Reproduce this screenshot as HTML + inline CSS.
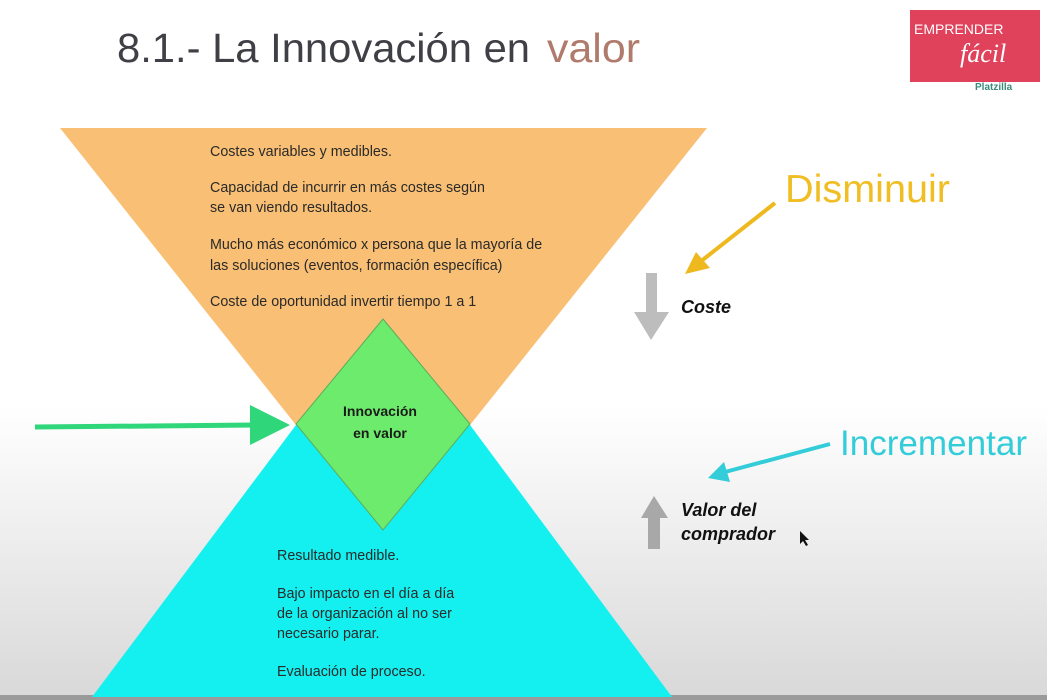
<!DOCTYPE html>
<html><head><meta charset="utf-8"><style>
html,body{margin:0;padding:0;width:1047px;height:700px;overflow:hidden;background:#fff}
svg{display:block}
</style></head><body>
<svg width="1047" height="700" viewBox="0 0 1047 700" xmlns="http://www.w3.org/2000/svg" font-family="Liberation Sans, sans-serif">
<defs>
<linearGradient id="bg" x1="0" y1="0" x2="0" y2="1">
<stop offset="0" stop-color="#ffffff"/>
<stop offset="0.58" stop-color="#ffffff"/>
<stop offset="1" stop-color="#d8d8d8"/>
</linearGradient>
</defs>
<rect width="1047" height="700" fill="url(#bg)"/>
<rect x="0" y="695" width="1047" height="5" fill="#9a9a9a"/>
<text x="117" y="62" font-size="41" fill="#3f3f46" textLength="413" lengthAdjust="spacingAndGlyphs">8.1.- La Innovación en</text>
<text x="547" y="62" font-size="41" fill="#b07a6c" textLength="93" lengthAdjust="spacingAndGlyphs">valor</text>
<!-- logo -->
<rect x="910" y="10" width="130" height="72" fill="#e0415b"/>
<text x="914" y="34" font-size="14" fill="#fff">EMPRENDER</text>
<text x="960" y="62" font-size="26" font-style="italic" font-family="Liberation Serif, serif" fill="#fff">fácil</text>
<text x="975" y="90" font-size="10" font-weight="bold" fill="#3a8a7a">Platzilla</text>
<!-- triangles -->
<polygon points="60,128 707,128 470,425 296,425" fill="#f9bf74"/>
<polygon points="296,425 470,425 672,697 92,697" fill="#14f0f0"/>
<polygon points="383,319 470,424 383,530 296,424" fill="#6ceb6c" stroke="#5cad5c" stroke-width="1"/>
<text x="380" y="416" font-size="14" font-weight="bold" fill="#1b1b1b" text-anchor="middle">Innovación</text>
<text x="380" y="438" font-size="14" font-weight="bold" fill="#1b1b1b" text-anchor="middle">en valor</text>
<g font-size="14.3" fill="#2a2a2a">
<text x="210" y="156">Costes variables y medibles.</text>
<text x="210" y="192">Capacidad de incurrir en más costes según</text>
<text x="210" y="212">se van viendo resultados.</text>
<text x="210" y="249">Mucho más económico x persona que la mayoría de</text>
<text x="210" y="270">las soluciones (eventos, formación específica)</text>
<text x="210" y="306">Coste de oportunidad invertir tiempo 1 a 1</text>
<text x="277" y="560">Resultado medible.</text>
<text x="277" y="598">Bajo impacto en el día a día</text>
<text x="277" y="618">de la organización al no ser</text>
<text x="277" y="638">necesario parar.</text>
<text x="277" y="676">Evaluación de proceso.</text>
</g>
<!-- green arrow -->
<path d="M35,427 L262,425" stroke="#2fd67a" stroke-width="5"/>
<polygon points="250,405 290,425 250,445" fill="#2fd67a"/>
<!-- right side -->
<text x="785" y="202" font-size="39" fill="#f0bd22" textLength="165" lengthAdjust="spacingAndGlyphs">Disminuir</text>
<path d="M775,203 L700,262" stroke="#edb91e" stroke-width="4"/>
<polygon points="685,274 696,252 710,268" fill="#edb91e"/>
<rect x="646" y="273" width="11" height="40" fill="#bdbdbd"/>
<polygon points="634,312 669,312 651,340" fill="#bdbdbd"/>
<text x="681" y="313" font-size="18" font-weight="bold" font-style="italic" fill="#111">Coste</text>
<text x="840" y="455" font-size="35" fill="#33ccd9" textLength="187" lengthAdjust="spacingAndGlyphs">Incrementar</text>
<path d="M830,444 L725,472" stroke="#33ccd9" stroke-width="4"/>
<polygon points="708,478 724,462 730,482" fill="#33ccd9"/>
<polygon points="641,518 668,518 654,496" fill="#a8a8a8"/>
<rect x="648" y="517" width="12" height="32" fill="#a8a8a8"/>
<text x="681" y="516" font-size="18" font-weight="bold" font-style="italic" fill="#111">Valor del</text>
<text x="681" y="540" font-size="18" font-weight="bold" font-style="italic" fill="#111">comprador</text>
<polygon points="800,531 800,544 803,541 806,546 808,545 805,540 809,540" fill="#111"/>
</svg>
</body></html>
